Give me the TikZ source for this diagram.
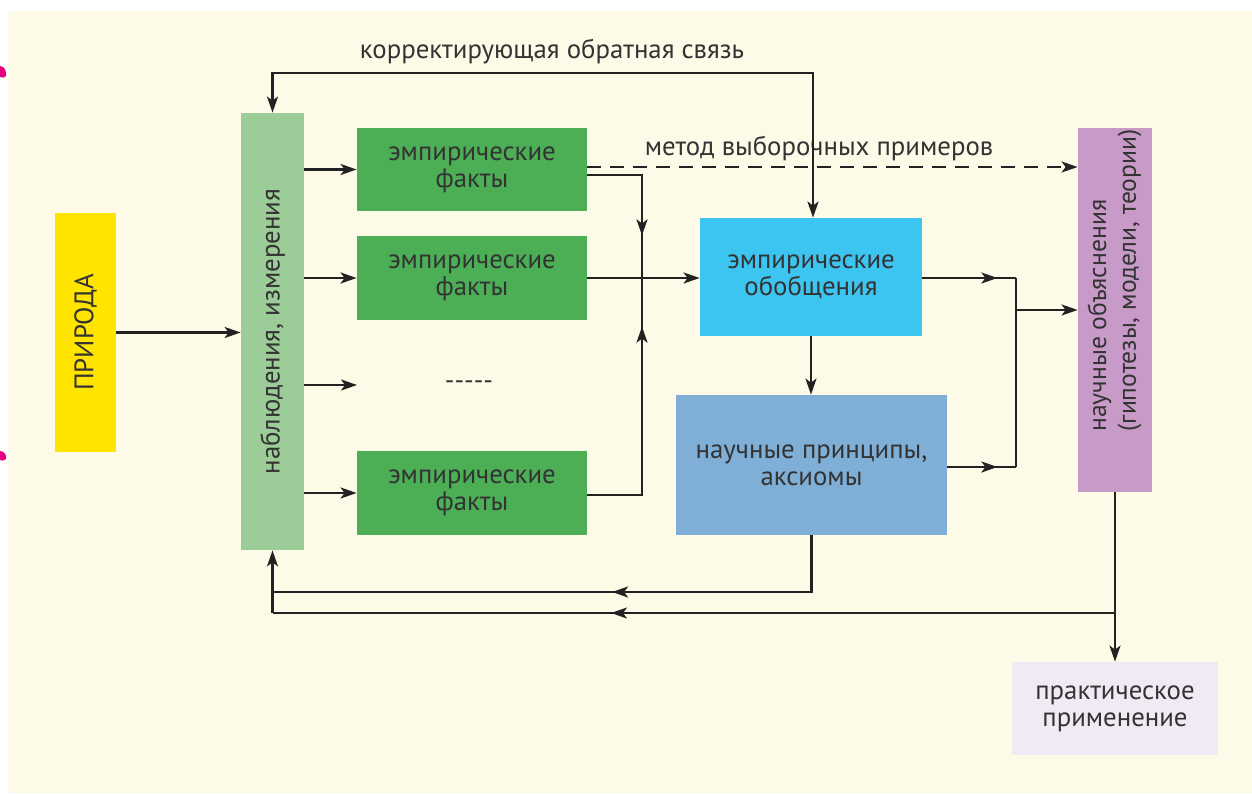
\documentclass[tikz,border=0pt]{standalone}
\usepackage{fontspec}
\setmainfont{PT Sans}
\usepackage{graphicx}
\usetikzlibrary{arrows.meta,decorations.markings}

\definecolor{paper}{HTML}{FDFAE8}
\definecolor{ink}{HTML}{222222}
\definecolor{txt}{HTML}{333333}
\definecolor{natureY}{HTML}{FFE400}
\definecolor{obsG}{HTML}{9CCC97}
\definecolor{factG}{HTML}{4CAE55}
\definecolor{genC}{HTML}{3DC5F1}
\definecolor{prinB}{HTML}{7FAFD7}
\definecolor{explP}{HTML}{C79AC8}
\definecolor{appL}{HTML}{F1EAF4}
\definecolor{pinkmark}{HTML}{E5007D}

\begin{document}
\begin{tikzpicture}[x=0.5pt,y=-0.5pt,
  >={Stealth[length=8pt,width=5.5pt,inset=2pt]},
  every node/.style={font=\fontsize{13.4}{13.6}\selectfont, text=txt},
  blk/.style={draw=none, inner sep=0pt, align=center},
  conn/.style={draw=ink, line width=1.1pt},
  arr/.style={conn, ->},
  dash link/.style={conn, ->, dash pattern=on 7pt off 4.5pt},
  midarr/.style={postaction={decorate},
    decoration={markings, mark=at position #1 with {\arrow{>}}}}
]
% page and panel
\useasboundingbox (0,0) rectangle (1252,793);
\fill[white] (0,0) rectangle (1252,793);
\fill[paper] (8,11) rectangle (1252,793);
\fill[pinkmark] (0,66) .. controls (4,66) and (7,71) .. (6,76)
  .. controls (5,78) and (2,78) .. (0,77) -- cycle;
\fill[pinkmark] (0,451) .. controls (4,451) and (7,455) .. (6,459)
  .. controls (4,461) and (2,461) .. (0,460) -- cycle;

% rows and columns of the connectors
\coordinate (rowTop) at (0,73);
\coordinate (rowDash) at (0,167);
\coordinate (rowF1) at (0,175);
\coordinate (rowMid) at (0,278);
\coordinate (rowMerge) at (0,310);
\coordinate (rowDots) at (0,385);
\coordinate (rowP) at (0,467);
\coordinate (rowF3) at (0,495);
\coordinate (rowB1) at (0,592);
\coordinate (rowB2) at (0,613);
\coordinate (colJ) at (642,0);
\coordinate (colR) at (1016,0);
\coordinate (colFB) at (813,0);
\coordinate (colDots) at (357,0);

% blocks
\node[blk, fill=natureY, minimum width=30.5pt, minimum height=119.5pt] (nat)
  at (85.5,332.5) {\rotatebox{90}{ПРИРОДА}};
\node[blk, fill=obsG, minimum width=31.5pt, minimum height=218.5pt] (obs)
  at (272.5,331.5) {\rotatebox{90}{наблюдения, измерения}};
\node[blk, fill=factG, minimum width=115pt, minimum height=41.5pt] (f1)
  at (472,169.5) {эмпирические\\факты};
\node[blk, fill=factG, minimum width=115pt, minimum height=42pt] (f2)
  at (472,278) {эмпирические\\факты};
\node[blk, fill=factG, minimum width=115pt, minimum height=42pt] (f3)
  at (472,493) {эмпирические\\факты};
\node (dots) at (469,385) {-{}-{}-{}-{}-};
\node[blk, fill=genC, minimum width=111pt, minimum height=59pt] (gen)
  at (811,277) {эмпирические\\обобщения};
\node[blk, fill=prinB, minimum width=135.5pt, minimum height=70pt] (prin)
  at (811.5,465) {научные принципы,\\аксиомы};
\node[blk, fill=explP, minimum width=37pt, minimum height=182pt,
  font=\fontsize{12.8}{13.6}\selectfont] (expl)
  at (1115,310) {\raisebox{14.75pt}[\height][\depth]{\rotatebox{90}{%
    \def\arraystretch{1.1}\begin{tabular}{@{}l@{}}научные объяснения\\
    (гипотезы, модели, теории)\end{tabular}}}};
\node[blk, fill=appL, minimum width=103pt, minimum height=46.5pt] (app)
  at (1115,708.5) {практическое\\применение};

% labels of the links
\node (fbLabel) at (552,52) {корректирующая обратная связь};
\node (smLabel) at (819,148) {метод выборочных примеров};

% nature to observation, observation to the facts
\draw[arr] (nat.east) -- (nat.east -| obs.west);
\draw[arr] (obs.east |- f1.west) -- (f1.west);
\draw[arr] (obs.east |- f2.west) -- (f2.west);
\draw[arr] (obs.east |- rowDots) -- (colDots |- rowDots);
\draw[arr] (obs.east |- f3.west) -- (f3.west);

% corrective feedback at the top
\draw[conn, <->] (obs.north) -- (obs.north |- rowTop) -| (colFB |- gen.north);

% sampling method (dashed)
\draw[dash link] (f1.east |- rowDash) -- (expl.west |- rowDash);

% facts gathered into generalisations
\draw[conn, midarr=57.5pt] (f1.east |- rowF1) -| (colJ |- rowMid);
\draw[conn, midarr=111.5pt] (f3.east |- rowF3) -| (colJ |- rowMid);
\draw[arr] (f2.east) -- (gen.west |- f2.east);

% generalisations and principles to explanations
\draw[arr] (gen.south) -- (gen.south |- prin.north);
\draw[conn, midarr=37.5pt] (gen.east |- rowMid) -- (colR |- rowMid);
\draw[conn, midarr=25pt] (prin.east |- rowP) -- (colR |- rowP);
\draw[conn] (colR |- rowMid) -- (colR |- rowP);
\draw[arr] (colR |- rowMerge) -- (expl.west |- rowMerge);

% return links at the bottom
\draw[conn, midarr=128pt] (prin.south) |- (obs.south |- rowB1);
\draw[conn, midarr=252pt] (expl.south |- rowB2) -- (obs.south |- rowB2);
\draw[arr] (obs.south |- rowB2) -- (obs.south);
\draw[arr] (expl.south) -- (app.north);
\end{tikzpicture}
\end{document}
